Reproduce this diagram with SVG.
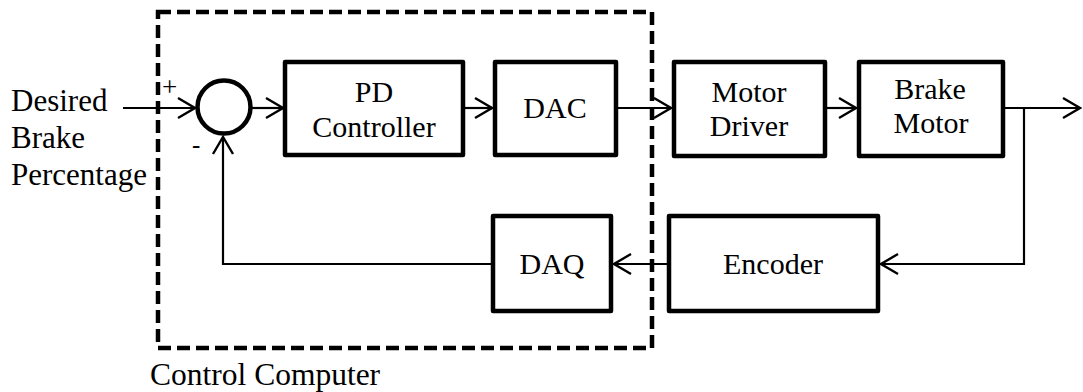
<svg xmlns="http://www.w3.org/2000/svg" width="1083" height="392" viewBox="0 0 1083 392">
  <style>
    .blk { fill: #fff; stroke: #000; stroke-width: 4.5; stroke-linejoin: round; }
    .lbl { font-family: "Liberation Serif", "Times New Roman", serif; font-size: 30px; fill: #000; }
    .big { font-size: 31px; }
    .mid { text-anchor: middle; }
    .wire { fill: none; stroke: #000; stroke-width: 2.2; }
    .frame { fill: none; stroke: #000; stroke-width: 4.5; stroke-dasharray: 13 6; }
  </style>
  <defs>
    <marker id="arr" viewBox="-20 -12 22 24" refX="0" refY="0" markerWidth="22" markerHeight="24" markerUnits="userSpaceOnUse" orient="auto">
      <path d="M-17,-10 L0,0 L-17,10" fill="none" stroke="#000" stroke-width="2.4"/>
    </marker>
  </defs>
  <rect width="1083" height="392" fill="#fff"/>

  <!-- control computer boundary -->
  <g id="control-computer">
    <rect class="frame" x="158" y="12" width="494" height="336"/>
    <text class="lbl" x="150" y="385" style="font-size:31.5px">Control Computer</text>
  </g>

  <!-- reference input -->
  <g id="input">
    <text class="lbl big" x="11" y="111">Desired</text>
    <text class="lbl big" x="11" y="148">Brake</text>
    <text class="lbl big" x="11" y="185">Percentage</text>
  </g>

  <!-- connectors -->
  <g id="connectors">
    <line class="wire" x1="123" y1="108" x2="195" y2="108" marker-end="url(#arr)"/>
    <line class="wire" x1="252" y1="108" x2="283" y2="108" marker-end="url(#arr)"/>
    <line class="wire" x1="465" y1="108" x2="492" y2="108" marker-end="url(#arr)"/>
    <line class="wire" x1="618" y1="108" x2="671" y2="108" marker-end="url(#arr)"/>
    <line class="wire" x1="827" y1="108" x2="856" y2="108" marker-end="url(#arr)"/>
    <line class="wire" x1="1005" y1="108" x2="1080" y2="108" marker-end="url(#arr)"/>
    <polyline class="wire" points="1024,108 1024,264 881,264" marker-end="url(#arr)"/>
    <line class="wire" x1="667" y1="264" x2="614" y2="264" marker-end="url(#arr)"/>
    <polyline class="wire" points="491,264 223,264 223,137" marker-end="url(#arr)"/>
  </g>

  <!-- summing junction -->
  <g id="sum">
    <circle cx="224" cy="107" r="26.5" fill="#fff" stroke="#000" stroke-width="4.5"/>
    <text x="162" y="96" font-family="Liberation Serif, serif" font-size="27">+</text>
    <text x="192" y="153" font-family="Liberation Serif, serif" font-size="25">-</text>
  </g>

  <g id="pd-controller">
    <rect class="blk" x="285" y="62" width="178" height="93"/>
    <text class="lbl mid" x="374" y="102">PD</text>
    <text class="lbl mid" x="374" y="137">Controller</text>
  </g>

  <g id="dac">
    <rect class="blk" x="495" y="62" width="121" height="93"/>
    <text class="lbl mid" x="555" y="118">DAC</text>
  </g>

  <g id="motor-driver">
    <rect class="blk" x="674" y="62" width="151" height="94"/>
    <text class="lbl mid" x="749" y="102">Motor</text>
    <text class="lbl mid" x="749" y="136">Driver</text>
  </g>

  <g id="brake-motor">
    <rect class="blk" x="859" y="62" width="144" height="94"/>
    <text class="lbl mid" x="930" y="99">Brake</text>
    <text class="lbl mid" x="931" y="133">Motor</text>
  </g>

  <g id="encoder">
    <rect class="blk" x="669" y="216" width="209" height="95"/>
    <text class="lbl mid" x="773" y="274">Encoder</text>
  </g>

  <g id="daq">
    <rect class="blk" x="493" y="216" width="118" height="95"/>
    <text class="lbl mid" x="552" y="274">DAQ</text>
  </g>
</svg>
